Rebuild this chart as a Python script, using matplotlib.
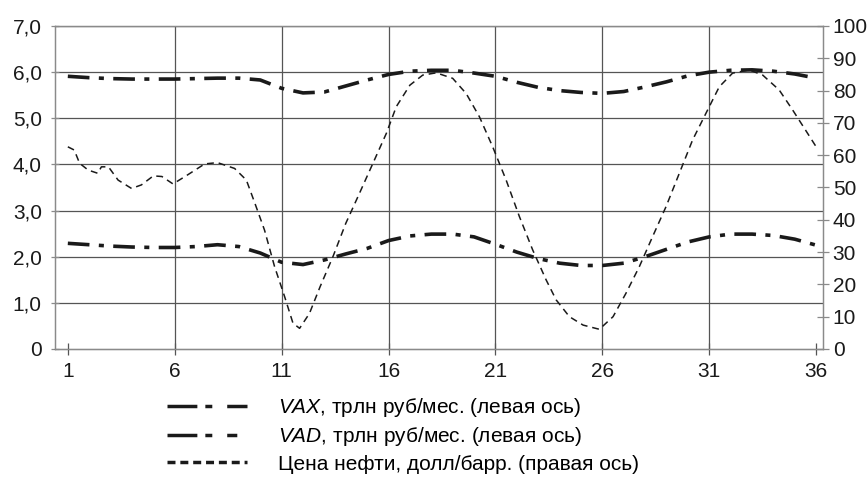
import matplotlib
matplotlib.use("Agg")
import matplotlib.pyplot as plt
from matplotlib.lines import Line2D

plt.rcParams["font.family"] = ["Liberation Sans", "DejaVu Sans"]
plt.rcParams["mathtext.fontset"] = "custom"
plt.rcParams["mathtext.it"] = "Liberation Sans:italic"
plt.rcParams["mathtext.rm"] = "Liberation Sans"

# === Data ===
months = list(range(1, 37))

# VAX, трлн руб/мес. (левая ось)
vax = [5.91, 5.88, 5.86, 5.85, 5.85, 5.85, 5.86, 5.87, 5.87, 5.83,
       5.65, 5.55, 5.57, 5.70, 5.83, 5.95, 6.02, 6.04, 6.04, 5.98,
       5.91, 5.78, 5.67, 5.60, 5.56, 5.54, 5.58, 5.68, 5.79, 5.92,
       6.00, 6.04, 6.05, 6.02, 5.96, 5.87]

# VAD, трлн руб/мес. (левая ось)
vad = [2.29, 2.26, 2.23, 2.21, 2.20, 2.20, 2.22, 2.26, 2.22, 2.08,
       1.88, 1.83, 1.93, 2.06, 2.18, 2.35, 2.45, 2.49, 2.49, 2.43,
       2.27, 2.10, 1.96, 1.86, 1.81, 1.81, 1.86, 2.00, 2.16, 2.32,
       2.43, 2.49, 2.49, 2.46, 2.38, 2.25]

# Цена нефти, долл/барр. (правая ось)
oil_x = [1.0, 1.3, 1.55, 1.95, 2.4, 2.57, 2.9, 3.35, 3.98, 4.44,
         5.0, 5.4, 5.92, 6.6, 7.4, 8.0, 8.8, 9.35, 9.75, 10.2,
         10.67, 11.14, 11.53, 11.84, 12.3, 12.8, 13.4, 14.0, 14.64, 15.27,
         15.9, 16.36, 17.0, 17.6, 18.23, 19.0, 19.63, 20.25, 20.87, 21.5,
         22.12, 22.74, 23.37, 23.84, 24.46, 25.1, 25.86, 26.5, 27.1, 27.73,
         28.35, 28.98, 29.6, 30.22, 30.84, 31.47, 32.09, 32.87, 33.5, 34.27,
         34.9, 35.5, 36.0]
oil = [62.6, 61.6, 57.5, 55.4, 54.4, 56.4, 56.4, 52.3, 49.7, 50.8,
       53.6, 53.4, 51.1, 53.9, 57.3, 57.7, 55.9, 52.3, 45.1, 36.8,
       25.5, 16.2, 8.0, 6.4, 11.0, 19.3, 28.6, 38.9, 48.2, 57.5,
       66.8, 75.0, 81.7, 84.8, 85.5, 83.8, 79.1, 71.9, 62.6, 52.3,
       41.0, 30.7, 21.4, 15.2, 10.0, 7.4, 6.1, 10.0, 17.2, 25.5,
       34.8, 44.1, 54.4, 64.7, 72.9, 81.2, 85.4, 86.4, 84.8, 80.2,
       74.0, 67.8, 62.6]

x_ticks = [1, 6, 11, 16, 21, 26, 31, 36]
left_ticks = [0, 1, 2, 3, 4, 5, 6, 7]
left_labels = ["0", "1,0", "2,0", "3,0", "4,0", "5,0", "6,0", "7,0"]
right_ticks = list(range(0, 101, 10))

labels = [r"$\mathit{VAX}$, трлн руб/мес. (левая ось)",
          r"$\mathit{VAD}$, трлн руб/мес. (левая ось)",
          "Цена нефти, долл/барр. (правая ось)"]

# === Figure ===
fig = plt.figure(figsize=(8.67, 4.8), dpi=100)
ax = fig.add_axes([55 / 867, 1 - 349 / 480, 768 / 867, 323 / 480])
ax2 = ax.twinx()

grid_col = "#555555"
spine_col = "#8a8a8a"
ink = "#1a1a1a"
fs = 15

ax.set_xlim(0.4, 36.32)
ax.set_ylim(0, 7)
ax2.set_ylim(0, 100)

# grid
for y in left_ticks[1:]:
    ax.axhline(y, color=grid_col, lw=0.9, zorder=1)
for x in x_ticks[1:-1]:
    ax.axvline(x, color=grid_col, lw=0.9, zorder=1)

ax.plot(months, vax, color=ink, lw=2.6, dashes=(6, 2.6, 1.4, 2.6), zorder=3)
ax.plot(months, vad, color=ink, lw=2.6, dashes=(6, 2.6, 1.4, 2.6), zorder=3)
ax2.plot(oil_x, oil, color=ink, lw=1.1, dashes=(4.5, 3.2), zorder=3)

for a in (ax, ax2):
    for s in a.spines.values():
        s.set_color(spine_col)
        s.set_linewidth(0.9)
ax.spines["bottom"].set_color(grid_col)

ax.set_xticks(x_ticks)
ax.set_yticks(left_ticks)
ax.set_yticklabels(left_labels)
ax2.set_yticks(right_ticks)

ax.tick_params(axis="x", direction="inout", length=8.5, width=0.9, color=grid_col,
               labelsize=fs, pad=5, labelcolor=ink)
ax.tick_params(axis="y", direction="inout", length=6, width=0.9, color=spine_col,
               labelsize=fs, pad=6.5, labelcolor=ink)
ax2.tick_params(axis="y", direction="inout", length=8, width=0.9, color=spine_col,
                labelsize=fs, pad=3, labelcolor=ink)

# legend with proxy handles
handles = [
    Line2D([], [], color=ink, lw=2.5, dashes=(8.6, 2.3, 2, 4.3)),
    Line2D([], [], color=ink, lw=2.5, dashes=(8.6, 2.3, 2, 4.3, 2.9, 10)),
    Line2D([], [], color=ink, lw=2.5, dashes=(2.3, 1.4)),
]
fig.legend(handles, labels, loc="upper left", bbox_to_anchor=(167 / 867, 1 - 396 / 480),
           frameon=False, fontsize=fs, handlelength=3.85, handletextpad=1.5,
           labelspacing=0.3, borderpad=0, borderaxespad=0)

fig.savefig("out.png", dpi=100)
